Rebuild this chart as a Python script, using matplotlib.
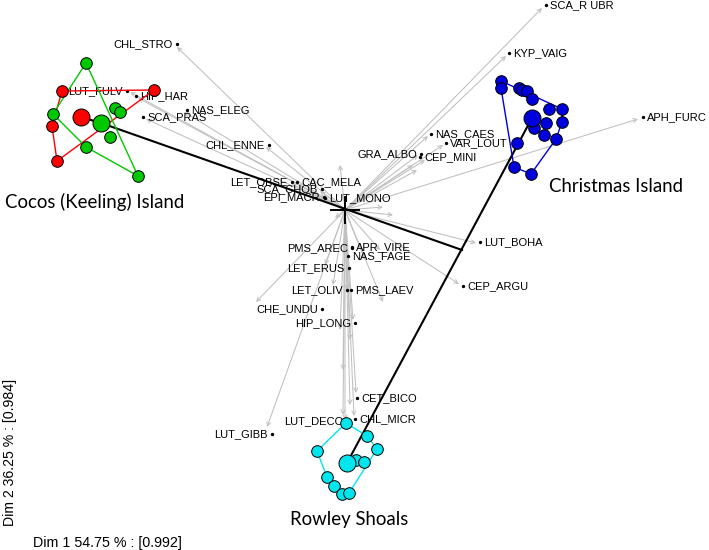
import matplotlib
matplotlib.use('Agg')
import matplotlib.pyplot as plt

# group sites (ordination coordinates, origin = cross)
cocos_red_x = [-2.83, -1.91, -2.93, -2.88]
cocos_red_y = [1.19, 1.20, 0.84, 0.49]
cocos_red_hull = [0, 1, 3, 2]
cocos_red_centre = (-2.64, 0.93)

cocos_green_x = [-2.59, -2.30, -2.25, -2.92, -2.35, -2.59, -2.07]
cocos_green_y = [1.47, 1.02, 0.98, 0.96, 0.73, 0.63, 0.34]
cocos_green_hull = [0, 6, 5, 3]
cocos_green_centre = (-2.44, 0.87)

xmas_x = [1.56, 1.56, 1.74, 1.77, 1.82, 1.87, 2.04, 2.17, 2.01, 2.17, 1.89, 1.99, 2.11, 1.72, 1.69, 1.86]
xmas_y = [1.29, 1.22, 1.22, 1.20, 1.19, 1.11, 1.01, 1.01, 0.87, 0.88, 0.82, 0.75, 0.71, 0.67, 0.43, 0.36]
xmas_hull = [0, 7, 9, 12, 15, 14, 1]
xmas_centre = (1.87, 0.92)

rowley_x = [0.01, 0.22, 0.32, -0.28, 0.11, 0.19, -0.18, -0.11, -0.03, 0.04]
rowley_y = [-2.13, -2.26, -2.39, -2.41, -2.50, -2.52, -2.67, -2.76, -2.84, -2.83]
rowley_hull = [0, 1, 2, 9, 8, 7, 6, 3]
rowley_centre = (0.02, -2.53)

link_point = (1.17, -0.40)

# species arrows (tips)
arrow_x = [1.97, 1.61, 2.93, 0.83, 0.98, 0.73, 0.68, 0.72, 0.80,
           -1.68, -2.15, -2.07, -1.61, -1.99, -0.79, -0.53, -0.47, -0.25, -0.23,
           1.31, 1.14, -0.78, 0.11, 0.09, 0.00, -0.89, 0.38,
           0.02, 0.08, -0.12, 0.20, -0.20, 0.35, -0.05, 0.38, 0.48, -0.10, 0.05, -0.02,
           -0.02, 0.05, -0.05]
arrow_y = [2.02, 1.54, 0.91, 0.74, 0.65, 0.55, 0.45, 0.40, 0.50,
           1.63, 1.18, 1.12, 0.98, 0.91, 0.63, 0.26, 0.26, 0.19, 0.12,
           -0.33, -0.74, -2.17, -1.83, -2.06, -2.10, -0.92, -0.92,
           -0.80, -1.10, -0.75, -0.50, -0.55, -0.40, 0.45, 0.03, -0.05, -0.08, -1.30, -1.60,
           -2.05, -1.95, -1.20]

# species labels: name, x, y, side
species = ['CHL_STRO', 'LUT_FULV', 'HIP_HAR', 'NAS_ELEG', 'SCA_PRAS', 'CHL_ENNE',
           'LET_OBSE', 'CAC_MELA', 'SCA_CHOB', 'EPI_MACR', 'LUT_MONO',
           'GRA_ALBO', 'CEP_MINI', 'NAS_CAES', 'VAR_LOUT', 'SCA_R UBR', 'KYP_VAIG',
           'APH_FURC', 'LUT_BOHA', 'CEP_ARGU', 'PMS_AREC', 'APR_VIRE', 'NAS_FAGE',
           'LET_ERUS', 'LET_OLIV', 'PMS_LAEV', 'CHE_UNDU', 'HIP_LONG',
           'CET_BICO', 'CHL_MICR', 'LUT_DECO', 'LUT_GIBB']
species_x = [-1.68, -2.18, -2.09, -1.58, -2.02, -0.76,
             -0.53, -0.48, -0.23, -0.21, -0.20,
             0.76, 0.75, 0.86, 1.01, 2.01, 1.64,
             2.98, 1.35, 1.18, 0.07, 0.07, 0.03,
             0.04, 0.02, 0.06, -0.23, 0.10,
             0.12, 0.10, 0.03, -0.73]
species_y = [1.66, 1.19, 1.14, 1.00, 0.93, 0.65,
             0.28, 0.28, 0.21, 0.13, 0.12,
             0.56, 0.53, 0.76, 0.67, 2.05, 1.57,
             0.93, -0.32, -0.76, -0.38, -0.37, -0.46,
             -0.58, -0.80, -0.80, -0.99, -1.13,
             -1.88, -2.09, -2.11, -2.24]
species_side = ['l', 'l', 'r', 'r', 'r', 'l',
                'l', 'r', 'l', 'l', 'r',
                'l', 'r', 'r', 'r', 'r', 'r',
                'r', 'r', 'r', 'l', 'r', 'r',
                'l', 'l', 'r', 'l', 'l',
                'r', 'r', 'l', 'l']

islands = ['Cocos (Keeling) Island', 'Christmas Island', 'Rowley Shoals']
islands_x = [-2.50, 2.71, 0.04]
islands_y = [0.08, 0.23, -3.10]

fig = plt.figure(figsize=(7.09, 5.5), dpi=100)
ax = fig.add_axes([0, 0, 1, 1])
ax.set_xlim(-3.45, 3.64)
ax.set_ylim(-3.40, 2.10)
ax.axis('off')

# arrows
for x, y in zip(arrow_x, arrow_y):
    ax.annotate('', xy=(x, y), xytext=(0, 0),
                arrowprops=dict(arrowstyle='->', color='#c0c0c0', lw=0.75,
                                shrinkA=0, shrinkB=0, mutation_scale=7))

# cross at origin
ax.plot([-0.14, 0.14], [0, 0], color='black', lw=1.4, zorder=3)
ax.plot([0, 0], [-0.13, 0.13], color='black', lw=1.4, zorder=3)

# species labels
for name, x, y, side in zip(species, species_x, species_y, species_side):
    ax.plot(x, y, 'o', color='black', ms=1.4, zorder=4)
    if side == 'r':
        ax.annotate(name, (x, y), xytext=(3, 0), textcoords='offset points',
                    ha='left', va='center', fontsize=8, family='Liberation Sans', zorder=4)
    else:
        ax.annotate(name, (x, y), xytext=(-3, 0), textcoords='offset points',
                    ha='right', va='center', fontsize=8, family='Liberation Sans', zorder=4)

# links between group centres
ax.plot([cocos_red_centre[0], cocos_green_centre[0]],
        [cocos_red_centre[1], cocos_green_centre[1]], color='black', lw=1.5, zorder=5)
ax.plot([cocos_green_centre[0], link_point[0]],
        [cocos_green_centre[1], link_point[1]], color='black', lw=1.5, zorder=5)
ax.plot([xmas_centre[0], rowley_centre[0]],
        [xmas_centre[1], rowley_centre[1]], color='black', lw=1.5, zorder=5)

groups = [
    (cocos_red_x, cocos_red_y, cocos_red_hull, cocos_red_centre, '#ff0000'),
    (cocos_green_x, cocos_green_y, cocos_green_hull, cocos_green_centre, '#00c800'),
    (xmas_x, xmas_y, xmas_hull, xmas_centre, '#0000dc'),
    (rowley_x, rowley_y, rowley_hull, rowley_centre, '#00e5ee'),
]
for gx, gy, hull, centre, col in groups:
    hx = [gx[i] for i in hull] + [gx[hull[0]]]
    hy = [gy[i] for i in hull] + [gy[hull[0]]]
    ax.plot(hx, hy, color=col, lw=1.0, zorder=6)
    ax.scatter(gx, gy, s=70, color=col, edgecolor='black', linewidth=0.7, zorder=7)
    ax.scatter([centre[0]], [centre[1]], s=150, color=col, edgecolor='black',
               linewidth=0.7, zorder=7)

for name, x, y in zip(islands, islands_x, islands_y):
    ax.text(x, y, name, ha='center', va='center', fontsize=13.4, family='Lato')

fig.text(33 / 709, 1 - 543 / 550, 'Dim 1 54.75 % : [0.992]', ha='left', va='center',
         fontsize=10.3, family='Liberation Sans')
fig.text(10 / 709, 1 - 452 / 550, 'Dim 2 36.25 % : [0.984]', ha='center', va='center',
         rotation=90, fontsize=10.2, family='Liberation Sans')

fig.savefig('out.png', dpi=100)
